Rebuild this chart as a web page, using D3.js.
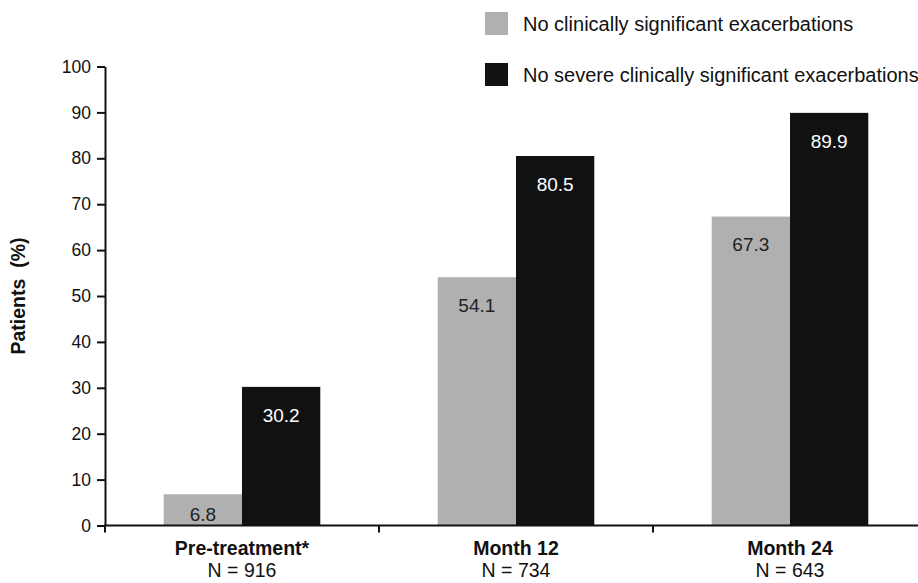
<!DOCTYPE html>
<html>
<head>
<meta charset="utf-8">
<script src="https://cdn.jsdelivr.net/npm/d3@7"></script>
<style>
  body { margin: 0; background: #fff; }
  svg { display: block; font-family: "Liberation Sans", Arial, sans-serif; }
</style>
</head>
<body>
<svg id="chart" width="918" height="583"></svg>
<script>
// Share of patients free of exacerbations, by study time point
const categories = ["Pre-treatment*", "Month 12", "Month 24"];
const sampleSizes = ["N = 916", "N = 734", "N = 643"];
const seriesNames = ["No clinically significant exacerbations", "No severe clinically significant exacerbations"];
const noExacerbations = [6.8, 54.1, 67.3];
const noSevereExacerbations = [30.2, 80.5, 89.9];
const yTicks = [0, 10, 20, 30, 40, 50, 60, 70, 80, 90, 100];

const seriesValues = [noExacerbations, noSevereExacerbations];
const fills = ["#b0b0b0", "#111111"];
const labelColors = ["#222222", "#ffffff"];

const svg = d3.select("#chart");
const plot = { left: 105, right: 927, top: 66.5, bottom: 525.5 };

const x0 = d3.scaleBand().domain(categories).range([plot.left, plot.right]).paddingInner(0).paddingOuter(0);
const x1 = d3.scaleBand().domain(d3.range(seriesNames.length)).range([0, x0.bandwidth()]).paddingInner(0).paddingOuter(0.75);
const y = d3.scaleLinear().domain([0, 100]).range([plot.bottom, plot.top]);

// Bars
const groups = svg.append("g").selectAll("g")
  .data(categories)
  .join("g")
  .attr("transform", d => `translate(${x0(d)},0)`);

groups.selectAll("rect")
  .data((c, i) => seriesValues.map((vals, s) => ({ s, v: vals[i] })))
  .join("rect")
  .attr("x", d => x1(d.s))
  .attr("width", x1.bandwidth())
  .attr("y", d => y(d.v))
  .attr("height", d => y(0) - y(d.v))
  .attr("fill", d => fills[d.s]);

// Value labels inside the bars
groups.selectAll("text.value")
  .data((c, i) => seriesValues.map((vals, s) => ({ s, v: vals[i] })))
  .join("text")
  .attr("class", "value")
  .attr("x", d => x1(d.s) + x1.bandwidth() / 2)
  .attr("y", d => Math.min(y(d.v) + 28, y(0) - 11))
  .attr("dy", "0.36em")
  .attr("text-anchor", "middle")
  .attr("font-size", 19)
  .attr("fill", d => labelColors[d.s])
  .text(d => d.v.toFixed(1));

// Y axis
const yAxis = svg.append("g")
  .attr("transform", `translate(${plot.left},0)`)
  .call(d3.axisLeft(y).tickValues(yTicks).tickSize(8).tickPadding(6).tickSizeOuter(0));
yAxis.select(".domain").attr("stroke", "#111").attr("stroke-width", 2);
yAxis.selectAll(".tick line").attr("stroke", "#111").attr("stroke-width", 2);
yAxis.selectAll(".tick text").attr("font-size", 17.5).attr("fill", "#111").attr("font-family", "Liberation Sans, Arial, sans-serif");

// X axis with ticks at category boundaries
const xAxisG = svg.append("g");
xAxisG.append("line")
  .attr("x1", plot.left - 1).attr("x2", plot.right)
  .attr("y1", y(0)).attr("y2", y(0))
  .attr("stroke", "#111").attr("stroke-width", 2);
xAxisG.selectAll("line.sep")
  .data(categories)
  .join("line")
  .attr("class", "sep")
  .attr("x1", d => x0(d)).attr("x2", d => x0(d))
  .attr("y1", y(0)).attr("y2", y(0) + 7)
  .attr("stroke", "#111").attr("stroke-width", 2);

xAxisG.selectAll("text.cat")
  .data(categories)
  .join("text")
  .attr("class", "cat")
  .attr("x", d => x0(d) + x0.bandwidth() / 2)
  .attr("y", 555)
  .attr("text-anchor", "middle")
  .attr("font-size", 19.5)
  .attr("font-weight", "bold")
  .attr("fill", "#111")
  .text(d => d);

xAxisG.selectAll("text.n")
  .data(categories)
  .join("text")
  .attr("class", "n")
  .attr("x", d => x0(d) + x0.bandwidth() / 2)
  .attr("y", 577)
  .attr("text-anchor", "middle")
  .attr("font-size", 19.5)
  .attr("fill", "#111")
  .text((d, i) => sampleSizes[i]);

// Y axis title
svg.append("text")
  .attr("transform", `translate(25,296) rotate(-90)`)
  .attr("text-anchor", "middle")
  .attr("font-size", 19.5)
  .attr("font-weight", "bold")
  .attr("fill", "#111")
  .attr("xml:space", "preserve")
  .style("white-space", "pre")
  .text("Patients  (%)");

// Legend
const legend = svg.append("g");
const legendRows = legend.selectAll("g")
  .data(seriesNames)
  .join("g")
  .attr("transform", (d, i) => `translate(485,${12 + i * 51})`);
legendRows.append("rect")
  .attr("width", 23).attr("height", 23)
  .attr("fill", (d, i) => fills[i]);
legendRows.append("text")
  .attr("x", 38).attr("y", 12)
  .attr("dy", "0.36em")
  .attr("font-size", 20)
  .attr("fill", "#111")
  .text(d => d);
</script>
</body>
</html>
